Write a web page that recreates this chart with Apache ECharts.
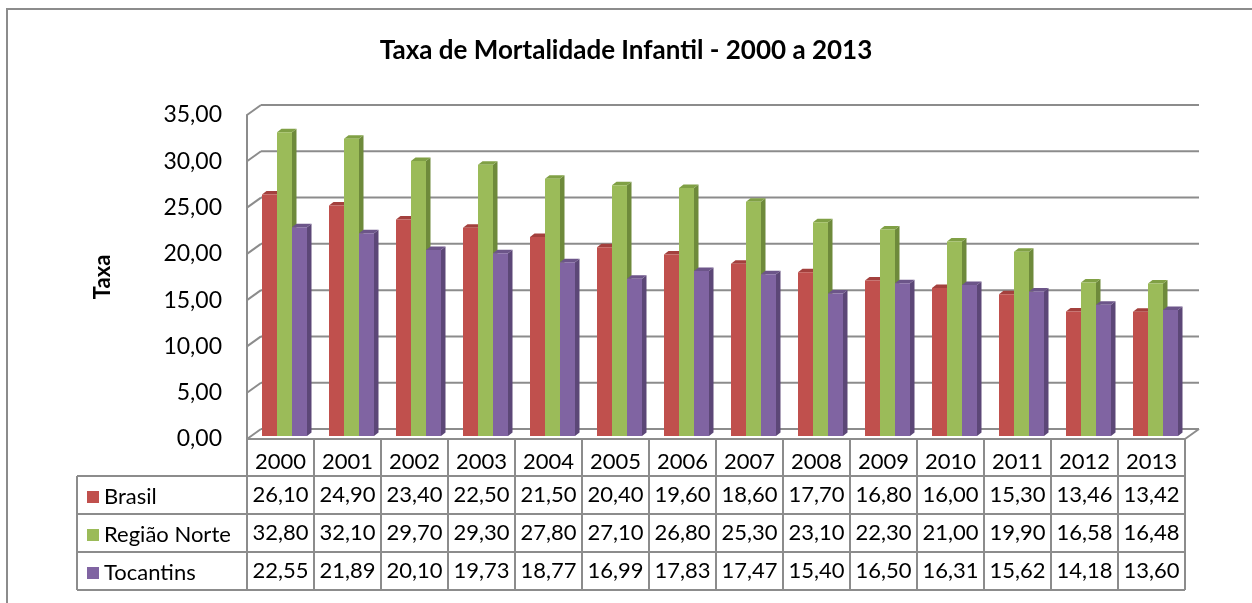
<!DOCTYPE html>
<html>
<head>
<meta charset="utf-8">
<script src="https://cdn.jsdelivr.net/npm/echarts@6/dist/echarts.min.js"></script>
<style>
  html, body { margin: 0; padding: 0; background: #fff; }
  #chart { width: 1252px; height: 603px; }
</style>
</head>
<body>
<div id="chart"></div>
<script>
// dados
const years = ['2000', '2001', '2002', '2003', '2004', '2005', '2006', '2007', '2008', '2009', '2010', '2011', '2012', '2013']
const brasil = [26.10, 24.90, 23.40, 22.50, 21.50, 20.40, 19.60, 18.60, 17.70, 16.80, 16.00, 15.30, 13.46, 13.42]
const regiaoNorte = [32.80, 32.10, 29.70, 29.30, 27.80, 27.10, 26.80, 25.30, 23.10, 22.30, 21.00, 19.90, 16.58, 16.48]
const tocantins = [22.55, 21.89, 20.10, 19.73, 18.77, 16.99, 17.83, 17.47, 15.40, 16.50, 16.31, 15.62, 14.18, 13.60]
const yTicks = [0, 5, 10, 15, 20, 25, 30, 35]

const FONT = 'Lato'
const GRAY = '#8c8c8c'
// 3D: deslocamento da parede do fundo e das barras
const WX = 14, WY = 10
const BW = 15, OX = 4, OY = 3, D = 4.5, DY = 3.5

const fmt = v => v.toFixed(2).replace('.', ',')

function barRender(idx, colors) {
  return function (params, api) {
    const i = api.value(0)
    const c = api.coord([i, api.value(1)])
    const b = api.coord([i, 0])
    const xl = c[0] - 1.5 * BW + idx * BW + OX
    const xr = xl + BW
    const yt = c[1] - OY
    const yb = b[1] - OY
    return {
      type: 'group',
      children: [
        { type: 'polygon', shape: { points: [[xr, yt], [xr + D, yt - DY], [xr + D, yb - DY], [xr, yb]] }, style: { fill: colors[1] } },
        { type: 'polygon', shape: { points: [[xl, yt], [xl + D, yt - DY], [xr + D, yt - DY], [xr, yt]] }, style: { fill: colors[2] } },
        { type: 'rect', shape: { x: xl, y: yt, width: BW, height: yb - yt }, style: { fill: colors[0] } }
      ]
    }
  }
}

function wallRender(params, api) {
  const cs = params.coordSys
  const v = api.value(1)
  const y = api.coord([0, v])[1]
  const x0 = cs.x, x1 = cs.x + cs.width
  const ls = { stroke: GRAY, lineWidth: 2 }
  const children = [
    { type: 'line', shape: { x1: x0 + WX, y1: y - WY, x2: x1 + WX, y2: y - WY }, style: ls },
    { type: 'line', shape: { x1: x0, y1: y, x2: x0 + WX, y2: y - WY }, style: ls }
  ]
  if (v === 0) {
    children.push({ type: 'line', shape: { x1: x1, y1: y, x2: x1 + WX, y2: y - WY }, style: ls })
  }
  return { type: 'group', children: children }
}

const series = [
  { name: 'Brasil', data: brasil, colors: ['#C0504D', '#8E3835', '#A3403D'] },
  { name: 'Região Norte', data: regiaoNorte, colors: ['#9BBB59', '#6E8A3B', '#80A045'] },
  { name: 'Tocantins', data: tocantins, colors: ['#8064A2', '#5C4777', '#6C5589'] }
]

// eixos da tabela (linhas de valores abaixo do gráfico)
function tableAxis(offset, margin, labelFn) {
  return {
    type: 'category',
    data: years,
    position: 'bottom',
    offset: offset,
    axisLine: { show: true, lineStyle: { color: GRAY, width: 2 } },
    axisTick: { show: true, interval: 0, length: 38, lineStyle: { color: GRAY, width: 2 } },
    axisLabel: { interval: 0, margin: margin, fontFamily: FONT, fontSize: 22, color: '#000', formatter: labelFn },
    splitLine: { show: false }
  }
}

const myChart = echarts.init(document.getElementById('chart'))
myChart.setOption({
  animation: false,
  textStyle: { fontFamily: FONT },
  title: {
    text: 'Taxa de Mortalidade Infantil - 2000 a 2013',
    left: 'center',
    top: 33,
    textStyle: { fontFamily: FONT, fontSize: 26, fontWeight: 'bold', color: '#000' }
  },
  legend: {
    data: series.map(s => s.name),
    orient: 'vertical',
    left: 82,
    top: 481,
    icon: 'rect',
    itemWidth: 12,
    itemHeight: 12,
    itemGap: 16,
    textStyle: { fontFamily: FONT, fontSize: 22, lineHeight: 22, color: '#000' },
    selectedMode: false
  },
  grid: { left: 247, right: 67, top: 115, bottom: 164 },
  xAxis: [
    tableAxis(0, 12, (v, i) => v),
    tableAxis(37, 8, (v, i) => fmt(brasil[i])),
    tableAxis(75, 8, (v, i) => fmt(regiaoNorte[i])),
    tableAxis(113, 8, (v, i) => fmt(tocantins[i]))
  ],
  yAxis: {
    type: 'value',
    min: 0,
    max: 35,
    interval: 5,
    name: 'Taxa',
    nameLocation: 'middle',
    nameRotate: 90,
    nameGap: 133,
    nameTextStyle: { fontFamily: FONT, fontSize: 22, fontWeight: 'bold', color: '#000' },
    axisLine: { show: true, lineStyle: { color: GRAY, width: 2 } },
    axisTick: { show: false },
    axisLabel: { margin: 25, fontFamily: FONT, fontSize: 23, color: '#000', formatter: v => fmt(v) },
    splitLine: { show: false }
  },
  graphic: [
    { type: 'rect', shape: { x: 7, y: 9, width: 1400, height: 800 }, style: { fill: 'none', stroke: GRAY, lineWidth: 2 } },
    { type: 'line', shape: { x1: 77, y1: 476, x2: 247, y2: 476 }, style: { stroke: GRAY, lineWidth: 2 } },
    { type: 'line', shape: { x1: 77, y1: 514, x2: 247, y2: 514 }, style: { stroke: GRAY, lineWidth: 2 } },
    { type: 'line', shape: { x1: 77, y1: 552, x2: 247, y2: 552 }, style: { stroke: GRAY, lineWidth: 2 } },
    { type: 'line', shape: { x1: 77, y1: 590, x2: 1185, y2: 590 }, style: { stroke: GRAY, lineWidth: 2 } },
    { type: 'line', shape: { x1: 77, y1: 476, x2: 77, y2: 590 }, style: { stroke: GRAY, lineWidth: 2 } }
  ],
  series: [
    {
      type: 'custom',
      name: 'wall',
      renderItem: wallRender,
      data: yTicks.map(v => [0, v]),
      encode: { x: 0, y: 1 },
      clip: false,
      silent: true,
      z: 1
    }
  ].concat(series.map((s, idx) => ({
    type: 'custom',
    name: s.name,
    renderItem: barRender(idx, s.colors),
    data: s.data.map((v, i) => [i, v]),
    encode: { x: 0, y: 1 },
    itemStyle: { color: s.colors[0] },
    clip: false,
    z: 2
  })))
})
</script>
</body>
</html>
